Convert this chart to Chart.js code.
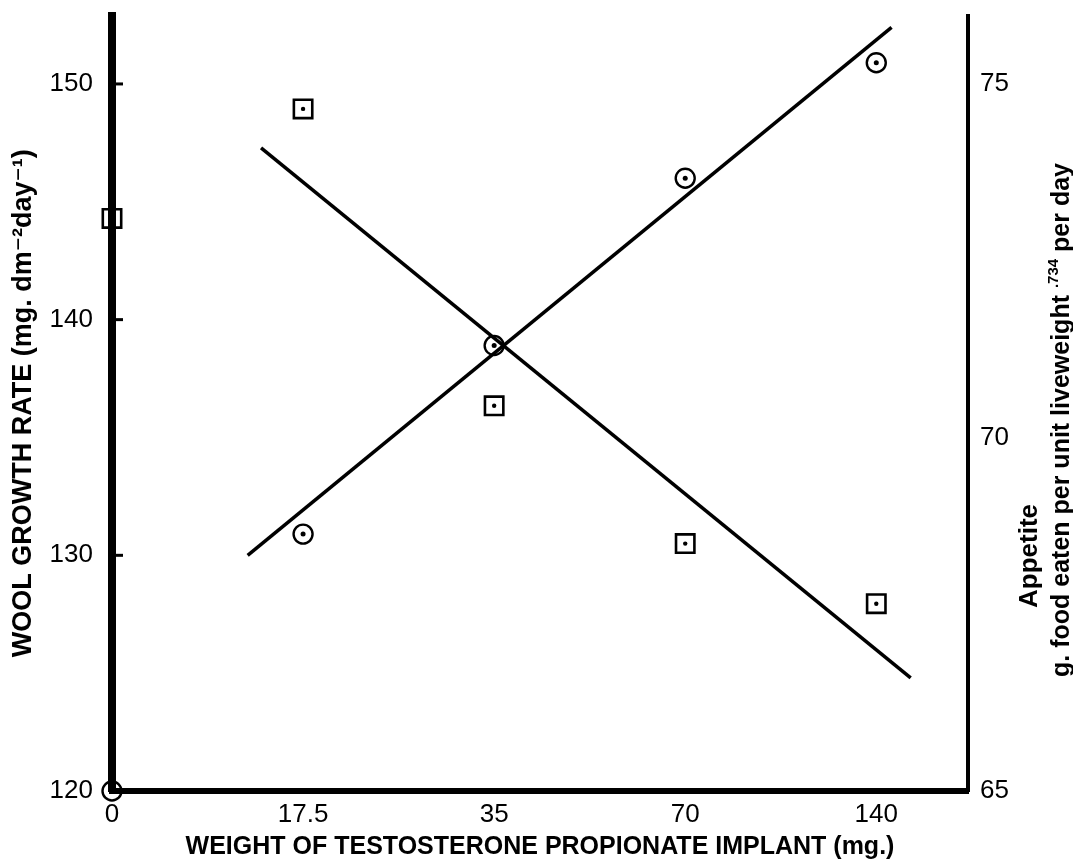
<!DOCTYPE html>
<html>
<head>
<meta charset="utf-8">
<script src="https://cdn.jsdelivr.net/npm/chart.js@4.4.0/dist/chart.umd.min.js"></script>
<style>
  html, body { margin: 0; padding: 0; background: #fff; }
  #wrap { width: 1073px; height: 862px; }
</style>
</head>
<body>
<div id="wrap"><canvas id="grafico"></canvas></div>
<script>
// implant weights (mg), plotted at equal steps
const doses = ['0', '17.5', '35', '70', '140'];
// wool growth rate (circles, left axis)
const woolGrowth = [120.0, 130.9, 138.9, 146.0, 150.9];
// appetite (squares, right axis)
const appetite = [73.1, 74.65, 70.45, 68.5, 67.65];
// fitted lines, ends (x in dose steps)
const woolFitX = [0.71, 4.08];
const woolFitY = [130.0, 152.4];
const appetiteFitX = [0.78, 4.18];
const appetiteFitY = [74.1, 66.6];
// tick labels
const woolTicks = [120, 130, 140, 150];
const appetiteTicks = [65, 70, 75];

const narrow = '"Liberation Sans Narrow", "Liberation Sans", sans-serif';
const sans = '"Liberation Sans", "DejaVu Sans", sans-serif';

function pts(xs, ys) {
  return xs.map((x, i) => ({ x: x, y: ys[i] }));
}
const doseIdx = doses.map((d, i) => i);

// no label overflow padding, the frame is fixed
function noPad(s) {
  s.paddingTop = 0; s.paddingBottom = 0; s.paddingLeft = 0; s.paddingRight = 0;
}

const extras = {
  id: 'extras',
  afterDraw(chart) {
    const ctx = chart.ctx;
    const area = chart.chartArea;
    const y = chart.scales.y;
    ctx.save();
    // short ticks on the inside of the left axis
    ctx.strokeStyle = '#000';
    ctx.lineWidth = 3;
    woolTicks.forEach(v => {
      const py = y.getPixelForValue(v);
      ctx.beginPath();
      ctx.moveTo(area.left, py);
      ctx.lineTo(area.left + 11, py);
      ctx.stroke();
    });
    ctx.restore();

    // right hand title, reads bottom to top
    ctx.save();
    ctx.fillStyle = '#000';
    ctx.textBaseline = 'alphabetic';
    ctx.translate(area.right + 69, 556);
    ctx.rotate(-Math.PI / 2);
    ctx.font = 'bold 26px ' + sans;
    ctx.textAlign = 'center';
    ctx.fillText('Appetite', 0, 0);
    ctx.restore();

    ctx.save();
    ctx.fillStyle = '#000';
    ctx.textBaseline = 'alphabetic';
    ctx.textAlign = 'left';
    ctx.translate(area.right + 101, 420);
    ctx.rotate(-Math.PI / 2);
    const big = 'bold 25px ' + sans;
    const small = 'bold 15px ' + sans;
    const p1 = 'g. food eaten per unit liveweight ';
    const p2 = '.734';
    const p3 = ' per day';
    ctx.font = big;
    const w1 = ctx.measureText(p1).width;
    const w3 = ctx.measureText(p3).width;
    ctx.font = small;
    const w2 = ctx.measureText(p2).width;
    let x = -(w1 + w2 + w3) / 2;
    ctx.font = big;
    ctx.fillText(p1, x, 0);
    x += w1;
    ctx.font = small;
    ctx.fillText(p2, x, -11);
    x += w2;
    ctx.font = big;
    ctx.fillText(p3, x, 0);
    ctx.restore();
  }
};

const ctx = document.getElementById('grafico');

new Chart(ctx, {
  type: 'scatter',
  data: {
    datasets: [
      {
        label: 'wool fit',
        data: pts(woolFitX, woolFitY),
        yAxisID: 'y',
        showLine: true,
        borderColor: '#000',
        borderWidth: 3.5,
        pointRadius: 0,
        clip: false
      },
      {
        label: 'appetite fit',
        data: pts(appetiteFitX, appetiteFitY),
        yAxisID: 'y2',
        showLine: true,
        borderColor: '#000',
        borderWidth: 3.5,
        pointRadius: 0,
        clip: false
      },
      {
        label: 'wool growth',
        data: pts(doseIdx, woolGrowth),
        yAxisID: 'y',
        pointStyle: 'circle',
        pointRadius: 9.5,
        pointBorderWidth: 2.4,
        pointBorderColor: '#000',
        pointBackgroundColor: 'rgba(0,0,0,0)',
        clip: false
      },
      {
        label: 'wool growth centre',
        data: pts(doseIdx, woolGrowth),
        yAxisID: 'y',
        pointRadius: 2.5,
        pointBorderWidth: 0,
        pointBackgroundColor: '#000',
        clip: false
      },
      {
        label: 'appetite',
        data: pts(doseIdx, appetite),
        yAxisID: 'y2',
        pointStyle: 'rect',
        pointRadius: 13,
        pointBorderWidth: 2.6,
        pointBorderColor: '#000',
        pointBackgroundColor: 'rgba(0,0,0,0)',
        clip: false
      },
      {
        label: 'appetite centre',
        data: pts(doseIdx, appetite),
        yAxisID: 'y2',
        pointRadius: 2.2,
        pointBorderWidth: 0,
        pointBackgroundColor: '#000',
        clip: false
      }
    ]
  },
  options: {
    responsive: true,
    maintainAspectRatio: false,
    animation: false,
    layout: { padding: { top: 11, left: 0, right: 0, bottom: 0 } },
    plugins: {
      legend: { display: false },
      tooltip: { enabled: false }
    },
    scales: {
      x: {
        type: 'linear',
        min: 0,
        max: 4.48,
        afterBuildTicks: s => { s.ticks = doseIdx.map(v => ({ value: v })); },
        afterFit: s => { s.height = 71; noPad(s); },
        grid: { display: false, drawTicks: false },
        border: { display: true, width: 6, color: '#000' },
        ticks: {
          callback: v => doses[v],
          padding: 8,
          maxRotation: 0,
          autoSkip: false,
          color: '#000',
          font: { family: narrow, size: 26 }
        },
        title: {
          display: true,
          text: 'WEIGHT OF TESTOSTERONE PROPIONATE IMPLANT (mg.)',
          color: '#000',
          padding: 0,
          font: { family: sans, size: 25, weight: 'bold' }
        }
      },
      y: {
        position: 'left',
        min: 120,
        max: 152.9,
        afterBuildTicks: s => { s.ticks = woolTicks.map(v => ({ value: v })); },
        afterFit: s => { s.width = 112; noPad(s); },
        grid: { display: false, drawTicks: false },
        border: { display: true, width: 8, color: '#000' },
        ticks: {
          padding: 19,
          color: '#000',
          font: { family: narrow, size: 26 }
        },
        title: {
          display: true,
          text: 'WOOL GROWTH RATE (mg. dm⁻²day⁻¹)',
          color: '#000',
          padding: { top: 7, bottom: 0 },
          font: { family: sans, size: 27, weight: 'bold' }
        }
      },
      y2: {
        position: 'right',
        min: 65,
        max: 75.97,
        afterBuildTicks: s => { s.ticks = appetiteTicks.map(v => ({ value: v })); },
        afterFit: s => { s.width = 105; noPad(s); },
        grid: { display: false, drawTicks: false },
        border: { display: true, width: 4, color: '#000' },
        ticks: {
          padding: 12,
          color: '#000',
          font: { family: sans, size: 26 }
        }
      }
    }
  },
  plugins: [extras]
});
</script>
</body>
</html>
